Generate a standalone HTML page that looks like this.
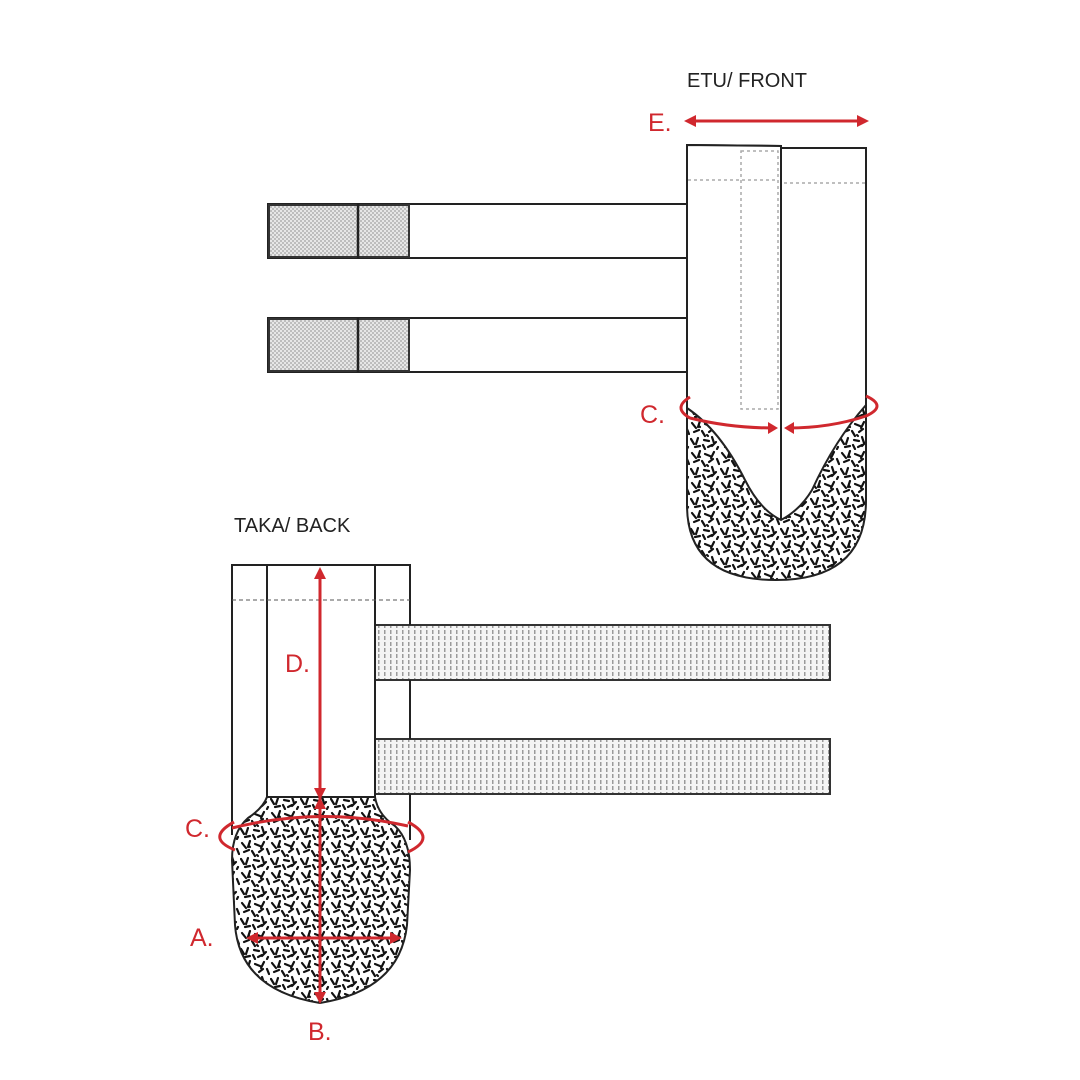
<!DOCTYPE html>
<html><head><meta charset="utf-8"><style>
html,body{margin:0;padding:0;background:#fff}
svg{display:block}
text{font-family:"Liberation Sans",sans-serif}
</style></head><body>
<svg width="1080" height="1080" viewBox="0 0 1080 1080" xmlns="http://www.w3.org/2000/svg">
<defs>
<pattern id="tex" width="30" height="30" patternUnits="userSpaceOnUse">
<rect width="30" height="30" fill="#fff"/>
<g stroke="#111" stroke-width="2.2" stroke-linecap="round" fill="none">
<path d="M2 3l4 5"/><path d="M10 1l-2 6"/><path d="M15 4l5 2"/><path d="M24 2l-3 6"/>
<path d="M27 9l2 5"/><path d="M4 12l5-2"/><path d="M12 11l3 5"/><path d="M19 12l4-3"/>
<path d="M1 19l3 5"/><path d="M8 18l-2 6"/><path d="M14 20l5 1"/><path d="M22 17l2 6"/>
<path d="M26 22l-4 4"/><path d="M5 27l5-1"/><path d="M13 25l2 4"/><path d="M18 27l4-2"/>
<path d="M28 27l-1 2"/><path d="M9 6l1 1"/><path d="M17 15l1 1"/>
</g>
</pattern>
<pattern id="chk" width="4" height="4" patternUnits="userSpaceOnUse">
<rect width="4" height="4" fill="#e6e6e6"/><rect width="2" height="2" fill="#bdbdbd"/><rect x="2" y="2" width="2" height="2" fill="#bdbdbd"/>
</pattern>
<pattern id="vstr" width="6" height="6" patternUnits="userSpaceOnUse">
<rect width="6" height="6" fill="#f4f4f4"/><rect x="0" width="1.5" height="4" fill="#9a9a9a"/>
</pattern>
</defs>

<!-- FRONT -->
<text x="687" y="87" font-size="20" fill="#222">ETU/ FRONT</text>
<text x="648" y="131" font-size="25" fill="#d0282e">E.</text>
<g stroke="#d0282e" stroke-width="3" fill="#d0282e">
<line x1="692" y1="121" x2="862" y2="121"/>
<path d="M684 121l12-6v12z" stroke="none"/><path d="M869 121l-12-6v12z" stroke="none"/>
</g>

<!-- front straps -->
<g stroke="#222" stroke-width="2" fill="#fff">
<rect x="268" y="204" width="419" height="54"/>
<rect x="268" y="318" width="419" height="54"/>
<rect x="269" y="205" width="140" height="52" fill="url(#chk)" stroke="#333"/>
<rect x="269" y="319" width="140" height="52" fill="url(#chk)" stroke="#333"/>
<line x1="358" y1="204" x2="358" y2="258" stroke-width="2.5"/>
<line x1="358" y1="318" x2="358" y2="372" stroke-width="2.5"/>
</g>

<!-- front body -->
<path d="M687 145 L781 146 L781 148 L866 148 L866 500 Q866 580 776 580 Q687 580 687 505 Z" fill="url(#tex)" stroke="#222" stroke-width="2"/>
<path d="M687 145 L781 146 L781 148 L866 148 L866 405 Q835 440 812 490 Q800 510 781 520 Q760 510 745 480 Q720 430 687 408 Z" fill="#fff" stroke="#222" stroke-width="2"/>
<line x1="781" y1="146" x2="781" y2="520" stroke="#222" stroke-width="2"/>
<g stroke="#aaa" stroke-width="1.5" stroke-dasharray="3 3" fill="none">
<rect x="741" y="151" width="37" height="258"/>
<line x1="688" y1="180" x2="778" y2="180"/>
<line x1="784" y1="183" x2="865" y2="183"/>
</g>
<text x="640" y="423" font-size="25" fill="#d0282e">C.</text>
<g stroke="#d0282e" stroke-width="3" fill="none">
<path d="M690 397 Q672 408 690 418 Q730 428 774 428"/>
<path d="M866 396 Q888 406 866 416 Q830 428 788 428"/>
</g>
<path d="M778 428l-10-6v12z" fill="#d0282e"/><path d="M784 428l10-6v12z" fill="#d0282e"/>

<!-- BACK -->
<text x="234" y="532" font-size="20" fill="#222">TAKA/ BACK</text>
<!-- back straps -->
<g stroke="#333" stroke-width="2">
<rect x="375" y="625" width="455" height="55" fill="url(#vstr)"/>
<rect x="375" y="739" width="455" height="55" fill="url(#vstr)"/>
</g>
<g stroke="#222" stroke-width="2" fill="none">
<path d="M232 835 L232 565 L410 565 L410 625"/>
<line x1="410" y1="680" x2="410" y2="739"/>
<line x1="410" y1="794" x2="410" y2="840"/>
<rect x="267" y="565" width="108" height="232" fill="#fff"/>
<line x1="375" y1="625" x2="375" y2="794"/>
<line x1="232" y1="600" x2="410" y2="600" stroke="#555" stroke-width="1" stroke-dasharray="4 3"/>
</g>
<path d="M267 797 L375 797 Q378 815 395 826 Q410 840 410 870 L407 925 Q400 990 320 1003 Q240 990 235 925 L232 860 Q232 832 248 818 Q263 808 267 797 Z" fill="url(#tex)" stroke="#222" stroke-width="2"/>
<g stroke="#d0282e" stroke-width="3" fill="none">
<line x1="320" y1="572" x2="320" y2="998"/>
<line x1="252" y1="938" x2="396" y2="938"/>
<path d="M234 822 Q205 838 235 850"/>
<path d="M408 822 Q438 838 408 852"/>
<path d="M232 828 Q320 806 408 826"/>
</g>
<g fill="#d0282e">
<path d="M320 567l-6 12h12z"/><path d="M320 800l-6-12h12z"/><path d="M320 797l-6 12h12z"/><path d="M320 1004l-6-12h12z"/>
<path d="M246 938l12-6v12z"/><path d="M402 938l-12-6v12z"/>
</g>
<text x="285" y="672" font-size="25" fill="#d0282e">D.</text>
<text x="185" y="837" font-size="25" fill="#d0282e">C.</text>
<text x="190" y="946" font-size="25" fill="#d0282e">A.</text>
<text x="308" y="1040" font-size="25" fill="#d0282e">B.</text>
</svg>
</body></html>
